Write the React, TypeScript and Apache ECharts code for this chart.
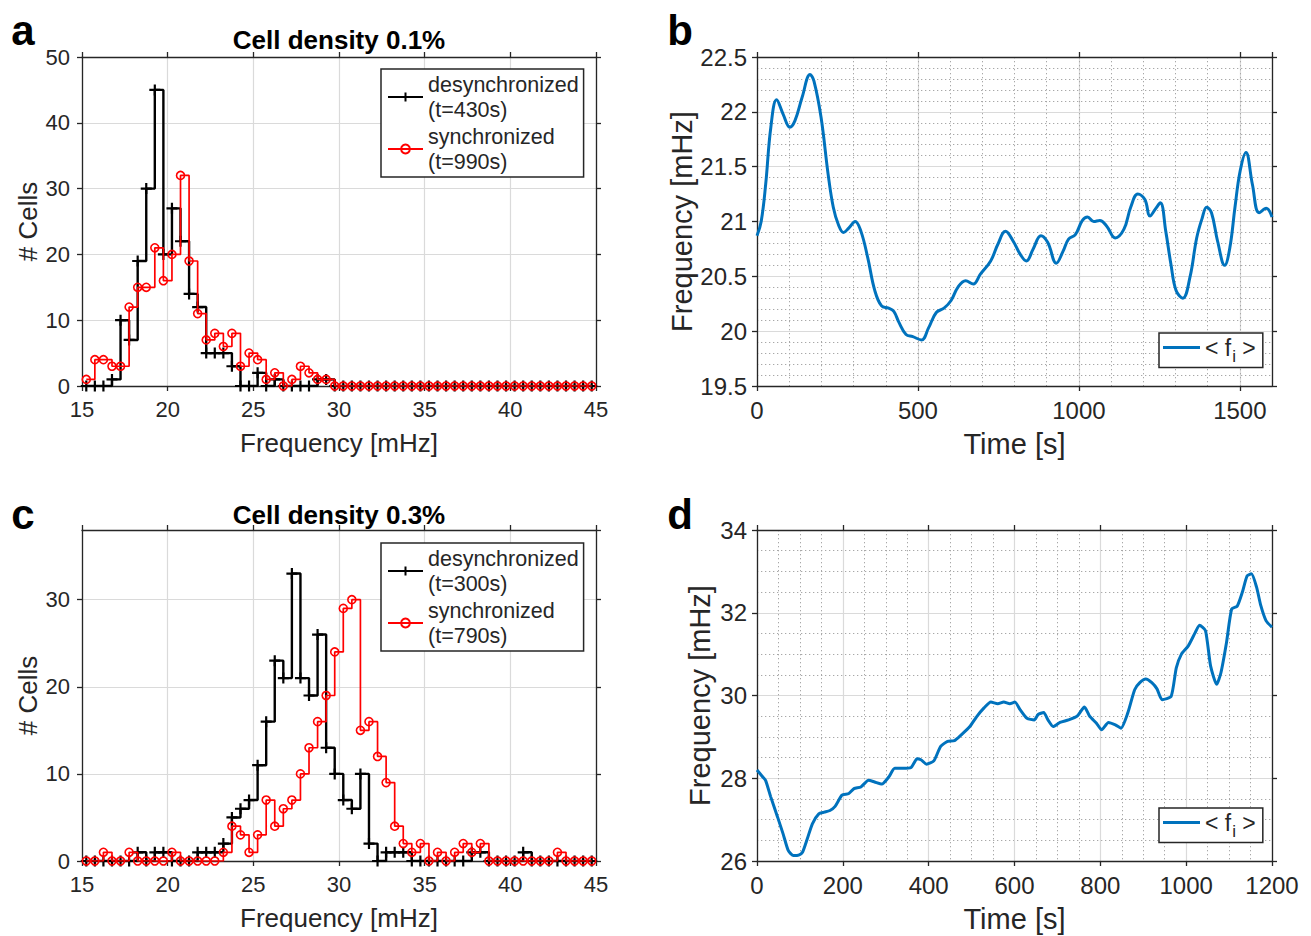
import React, { useEffect, useRef } from "react";
import * as echarts from "echarts";

// ---------- data ----------
const bins = [
  15.25, 15.75, 16.25, 16.75, 17.25, 17.75, 18.25, 18.75, 19.25, 19.75,
  20.25, 20.75, 21.25, 21.75, 22.25, 22.75, 23.25, 23.75, 24.25, 24.75,
  25.25, 25.75, 26.25, 26.75, 27.25, 27.75, 28.25, 28.75, 29.25, 29.75,
  30.25, 30.75, 31.25, 31.75, 32.25, 32.75, 33.25, 33.75, 34.25, 34.75,
  35.25, 35.75, 36.25, 36.75, 37.25, 37.75, 38.25, 38.75, 39.25, 39.75,
  40.25, 40.75, 41.25, 41.75, 42.25, 42.75, 43.25, 43.75, 44.25, 44.75,
];

const aDesync = [
  0, 0, 0, 1, 10, 7, 19, 30, 45, 20,
  27, 22, 14, 12, 5, 5, 5, 3, 0, 0,
  2, 0, 1, 0, 0, 0, 0, 1, 1, 0,
  0, 0, 0, 0, 0, 0, 0, 0, 0, 0,
  0, 0, 0, 0, 0, 0, 0, 0, 0, 0,
  0, 0, 0, 0, 0, 0, 0, 0, 0, 0,
];
const aSync = [
  1, 4, 4, 3, 3, 12, 15, 15, 21, 16,
  20, 32, 19, 11, 7, 8, 6, 8, 3, 5,
  4, 1, 2, 0, 1, 3, 2, 1, 1, 0,
  0, 0, 0, 0, 0, 0, 0, 0, 0, 0,
  0, 0, 0, 0, 0, 0, 0, 0, 0, 0,
  0, 0, 0, 0, 0, 0, 0, 0, 0, 0,
];
const cDesync = [
  0, 0, 0, 0, 0, 0, 1, 0, 1, 1,
  0, 0, 0, 1, 1, 1, 2, 5, 6, 7,
  11, 16, 23, 21, 33, 21, 19, 26, 13, 10,
  7, 6, 10, 2, 0, 1, 1, 1, 0, 0,
  0, 0, 0, 0, 0, 1, 1, 0, 0, 0,
  0, 1, 0, 0, 0, 0, 0, 0, 0, 0,
];
const cSync = [
  0, 0, 1, 0, 0, 1, 0, 0, 0, 0,
  1, 0, 0, 0, 0, 0, 1, 4, 3, 1,
  3, 7, 4, 6, 7, 10, 13, 16, 19, 24,
  29, 30, 15, 16, 12, 9, 4, 2, 1, 2,
  0, 1, 0, 1, 2, 1, 2, 0, 0, 0,
  0, 0, 0, 0, 0, 1, 0, 0, 0, 0,
];

const bTime = [
  0, 13, 27, 43, 61, 81, 102, 118, 140, 165, 177, 199, 221, 237, 253, 269, 285, 305,
  323, 344, 366, 387, 409, 425, 441, 463, 484, 511, 533, 557, 581, 603, 624, 648, 672,
  694, 726, 748, 772, 796, 818, 837, 858, 882, 903, 930, 951, 968, 989, 1011, 1027,
  1046, 1065, 1086, 1113, 1140, 1161, 1183, 1205, 1221, 1237, 1253, 1270, 1286, 1302,
  1323, 1345, 1366, 1383, 1397, 1412, 1431, 1453, 1469, 1485, 1501, 1519, 1539, 1560,
  1582, 1600,
];
const bFreq = [
  20.87, 21.0, 21.34, 21.86, 22.11, 21.98, 21.86, 21.92, 22.13, 22.34, 22.28, 21.95,
  21.43, 21.13, 20.97, 20.9, 20.94, 21.0, 20.91, 20.67, 20.37, 20.23, 20.21, 20.18,
  20.08, 19.97, 19.95, 19.92, 20.03, 20.17, 20.21, 20.28, 20.4, 20.46, 20.43, 20.52,
  20.64, 20.79, 20.91, 20.82, 20.7, 20.64, 20.75, 20.87, 20.81, 20.62, 20.73, 20.84,
  20.88, 21.01, 21.04, 21.0, 21.01, 20.96, 20.85, 20.93, 21.13, 21.25, 21.2, 21.05,
  21.11, 21.17, 20.91, 20.61, 20.37, 20.3, 20.49, 20.85, 21.03, 21.13, 21.08, 20.82,
  20.6, 20.76, 21.13, 21.46, 21.63, 21.34, 21.08, 21.12, 21.04,
];

const dTime = [
  0, 12, 20, 32, 48, 61, 73, 85, 97, 106, 117, 129, 144, 157, 170, 182, 198, 214, 226,
  242, 260, 274, 291, 307, 321, 339, 359, 373, 383, 395, 412, 428, 444, 460, 476, 496,
  512, 529, 545, 561, 575, 589, 601, 613, 629, 646, 655, 668, 678, 690, 706, 726, 746,
  763, 775, 791, 803, 819, 835, 848, 864, 880, 892, 906, 920, 932, 944, 965, 977, 989,
  1005, 1021, 1031, 1045, 1057, 1071, 1081, 1094, 1106, 1119, 1131, 1142, 1152, 1164,
  1174, 1186, 1200,
];
const dFreq = [
  28.2, 28.05, 27.95, 27.55, 27.06, 26.65, 26.25, 26.13, 26.14, 26.21, 26.53, 26.9,
  27.14, 27.18, 27.22, 27.32, 27.59, 27.63, 27.75, 27.79, 27.95, 27.91, 27.86, 28.03,
  28.24, 28.24, 28.26, 28.47, 28.44, 28.34, 28.42, 28.77, 28.89, 28.91, 29.05, 29.25,
  29.49, 29.7, 29.84, 29.8, 29.84, 29.8, 29.84, 29.66, 29.45, 29.41, 29.54, 29.59,
  29.41, 29.25, 29.35, 29.41, 29.5, 29.72, 29.5, 29.33, 29.17, 29.35, 29.29, 29.21,
  29.58, 30.14, 30.31, 30.4, 30.31, 30.16, 29.9, 29.98, 30.67, 31.0, 31.2, 31.52, 31.7,
  31.57, 30.71, 30.27, 30.55, 31.28, 32.09, 32.16, 32.5, 32.89, 32.94, 32.62, 32.17,
  31.81, 31.65,
];

const histXTicks = { min: 15, max: 45, interval: 5 };
const aYTicks = { min: 0, max: 50, interval: 10 };
const cYTicks = { min: 0, max: 38, interval: 10 };
const bXTicks = { min: 0, max: 1600, interval: 500 };
const bYTicks = { min: 19.5, max: 22.5, interval: 0.5 };
const dXTicks = { min: 0, max: 1200, interval: 200 };
const dYTicks = { min: 26, max: 34, interval: 2 };

const names = {
  aDes: "desynchronized\n(t=430s)",
  aSyn: "synchronized\n(t=990s)",
  cDes: "desynchronized\n(t=300s)",
  cSyn: "synchronized\n(t=790s)",
  bMean: "mean frequency b",
  dMean: "mean frequency d",
};

// ---------- styling helpers ----------
const FONT = "Helvetica, Arial, 'Liberation Sans', sans-serif";
const AX = "#262626";
const GRID = "#dadada";
const MINOR = "#a8a8a8";
const BLUE = "#0072BD";
const PLUS = "path://M5,0 L5,10 M0,5 L10,5";
const DOT = [1.3, 2.7];

const plain = (v: number) => String(v);

function mainAxis(
  gridIndex: number,
  position: string,
  ticks: { min: number; max: number; interval: number },
  fontSize: number,
  nameSize: number,
  name: string,
  nameGap: number,
  labelMargin: number,
  showMax: boolean,
  extra: any = {}
) {
  return {
    type: "value",
    gridIndex,
    position,
    min: ticks.min,
    max: ticks.max,
    interval: ticks.interval,
    name,
    nameLocation: "middle",
    nameGap,
    nameTextStyle: { fontFamily: FONT, fontSize: nameSize, color: AX },
    axisLine: { show: true, onZero: false, lineStyle: { color: AX, width: 1.3 } },
    axisTick: { show: true, inside: false, length: 5, lineStyle: { color: AX, width: 1.3 } },
    axisLabel: {
      show: true,
      fontFamily: FONT,
      fontSize,
      color: AX,
      margin: labelMargin,
      showMaxLabel: showMax,
      formatter: plain,
    },
    splitLine: { show: true, lineStyle: { color: GRID, width: 1.2 } },
    ...extra,
  };
}

function boxAxis(gridIndex: number, position: string, ticks: { min: number; max: number; interval: number }) {
  return {
    type: "value",
    gridIndex,
    position,
    min: ticks.min,
    max: ticks.max,
    interval: ticks.interval,
    axisLine: { show: true, onZero: false, lineStyle: { color: AX, width: 1.3 } },
    axisTick: { show: true, inside: false, length: 5, lineStyle: { color: AX, width: 1.3 } },
    axisLabel: { show: false },
    splitLine: { show: false },
  };
}

function stairSeries(name: string, xi: number, yi: number, vals: number[], isPlus: boolean) {
  const color = isPlus ? "#000000" : "#ff0000";
  return {
    type: "line",
    name,
    xAxisIndex: xi,
    yAxisIndex: yi,
    step: "end",
    data: bins.map((b, i) => [b, vals[i]]),
    symbol: isPlus ? PLUS : "circle",
    symbolSize: isPlus ? 11 : 8,
    showAllSymbol: true,
    lineStyle: { color, width: isPlus ? 2.4 : 1.7 },
    itemStyle: isPlus
      ? { color: "#000000", borderColor: "#000000", borderWidth: 2.2 }
      : { color: "rgba(255,255,255,0)", borderColor: "#ff0000", borderWidth: 1.6 },
    emphasis: { disabled: true },
    z: isPlus ? 3 : 4,
  };
}

function meanSeries(name: string, xi: number, yi: number, t: number[], f: number[], smooth: number) {
  return {
    type: "line",
    name,
    xAxisIndex: xi,
    yAxisIndex: yi,
    data: t.map((v, i) => [v, f[i]]),
    symbol: "none",
    smooth,
    lineStyle: { color: BLUE, width: 3 },
    itemStyle: { color: BLUE },
    emphasis: { disabled: true },
    z: 4,
  };
}

function histLegend(left: number, top: number, data: string[]) {
  return {
    show: true,
    data,
    orient: "vertical",
    left,
    top,
    padding: [3, 5, 3, 6],
    itemGap: 2,
    itemWidth: 35,
    itemHeight: 11,
    itemTextGap: 2,
    selectedMode: false,
    borderColor: AX,
    borderWidth: 1.5,
    borderRadius: 0,
    backgroundColor: "#ffffff",
    textStyle: { fontFamily: FONT, fontSize: 21.5, lineHeight: 25, color: AX },
  };
}

function meanLegend(left: number, top: number, name: string) {
  return {
    show: true,
    data: [{ name, icon: "rect" }],
    orient: "vertical",
    left,
    top,
    padding: [3, 7, 3, 4],
    itemWidth: 37,
    itemHeight: 3,
    itemTextGap: 3,
    selectedMode: false,
    borderColor: AX,
    borderWidth: 1.5,
    borderRadius: 0,
    backgroundColor: "#ffffff",
    itemStyle: { color: BLUE },
    formatter: () => "{a|< f}{s|i}{a| >}",
    textStyle: {
      fontFamily: FONT,
      color: AX,
      rich: {
        a: { fontFamily: FONT, fontSize: 23, color: AX },
        s: { fontFamily: FONT, fontSize: 17, color: AX, padding: [17, 0, 0, 1] },
      },
    },
  };
}

function label(text: string, x: number, y: number, font: string) {
  return {
    type: "text",
    x,
    y,
    style: {
      text,
      font,
      fill: "#000000",
      align: "center",
      verticalAlign: "middle",
      textAlign: "center",
      textVerticalAlign: "middle",
    },
  };
}

const minorLine = { show: true, lineStyle: { color: MINOR, width: 1, type: DOT } };

export default function App() {
  const ref = useRef<HTMLDivElement>(null);

  useEffect(() => {
    document.body.style.margin = "0";
    if (!ref.current) return;
    const chart = echarts.init(ref.current, undefined, { renderer: "svg" });

    const option: any = {
      animation: false,
      backgroundColor: "#ffffff",
      grid: [
        { left: 82, top: 57, width: 514, height: 329 },
        { left: 757, top: 57, width: 515, height: 329 },
        { left: 82, top: 530, width: 514, height: 331 },
        { left: 757, top: 530, width: 515, height: 331 },
      ],
      xAxis: [
        mainAxis(0, "bottom", histXTicks, 22, 26, "Frequency [mHz]", 44, 12, true),
        boxAxis(0, "top", histXTicks),
        mainAxis(1, "bottom", bXTicks, 24, 29, "Time [s]", 43, 12, false),
        boxAxis(1, "top", bXTicks),
        {
          type: "value",
          gridIndex: 1,
          position: "bottom",
          min: 0,
          max: 1600,
          interval: 100,
          axisLine: { show: false },
          axisTick: { show: false },
          axisLabel: { show: false },
          splitLine: minorLine,
        },
        mainAxis(2, "bottom", histXTicks, 22, 26, "Frequency [mHz]", 44, 12, true),
        boxAxis(2, "top", histXTicks),
        mainAxis(3, "bottom", dXTicks, 24, 29, "Time [s]", 43, 12, true, {
          minorTick: { show: false, splitNumber: 4 },
          minorSplitLine: minorLine,
        }),
        boxAxis(3, "top", dXTicks),
      ],
      yAxis: [
        mainAxis(0, "left", aYTicks, 22, 26, "# Cells", 41, 12, true),
        boxAxis(0, "right", aYTicks),
        mainAxis(1, "left", bYTicks, 24, 29, "Frequency [mHz]", 61, 10, true, {
          minorTick: { show: false, splitNumber: 5 },
          minorSplitLine: minorLine,
        }),
        boxAxis(1, "right", bYTicks),
        mainAxis(2, "left", cYTicks, 22, 26, "# Cells", 41, 12, false),
        boxAxis(2, "right", cYTicks),
        mainAxis(3, "left", dYTicks, 24, 29, "Frequency [mHz]", 43, 10, true, {
          minorTick: { show: false, splitNumber: 4 },
          minorSplitLine: minorLine,
        }),
        boxAxis(3, "right", dYTicks),
      ],
      legend: [
        histLegend(381, 69, [names.aDes, names.aSyn]),
        histLegend(381, 543, [names.cDes, names.cSyn]),
        meanLegend(1159, 333, names.bMean),
        meanLegend(1159, 808, names.dMean),
      ],
      series: [
        stairSeries(names.aDes, 0, 0, aDesync, true),
        stairSeries(names.aSyn, 0, 0, aSync, false),
        meanSeries(names.bMean, 2, 2, bTime, bFreq, 0.4),
        stairSeries(names.cDes, 5, 4, cDesync, true),
        stairSeries(names.cSyn, 5, 4, cSync, false),
        meanSeries(names.dMean, 7, 6, dTime, dFreq, 0.2),
      ],
      graphic: [
        label("a", 23, 30, `bold 42px ${FONT}`),
        label("b", 680, 30, `bold 42px ${FONT}`),
        label("c", 23, 514, `bold 42px ${FONT}`),
        label("d", 680, 514, `bold 42px ${FONT}`),
        label("Cell density 0.1%", 339, 40, `bold 26px ${FONT}`),
        label("Cell density 0.3%", 339, 515, `bold 26px ${FONT}`),
      ],
    };

    chart.setOption(option);
    return () => {
      chart.dispose();
    };
  }, []);

  return <div ref={ref} style={{ width: 1311, height: 936 }} />;
}
